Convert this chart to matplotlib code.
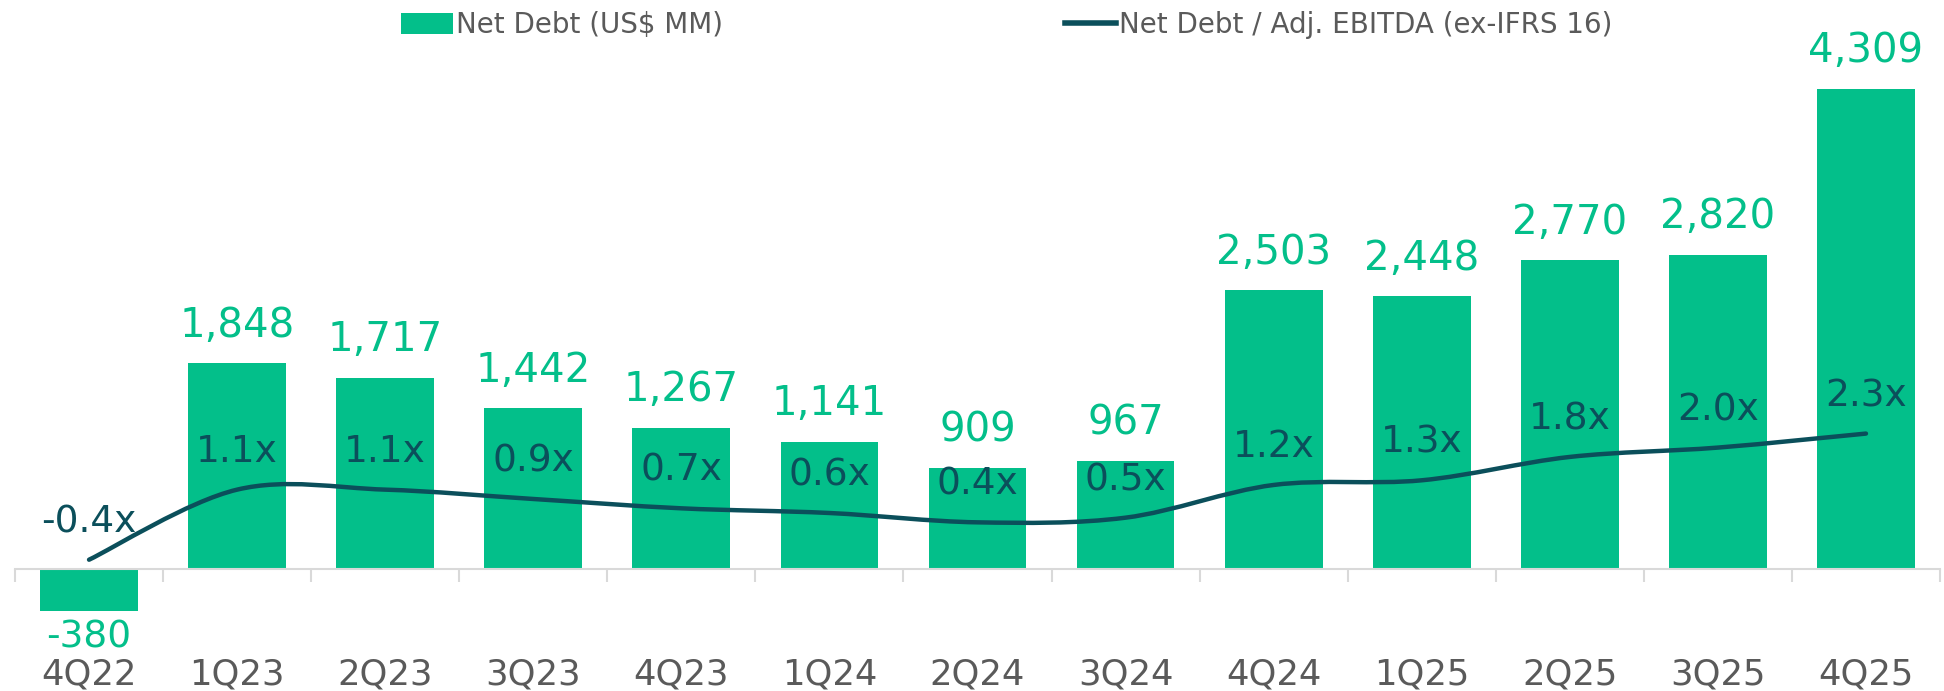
import matplotlib
matplotlib.use("Agg")
import matplotlib.pyplot as plt
from matplotlib.path import Path
from matplotlib.patches import PathPatch, Patch
from matplotlib.lines import Line2D

quarters = ["4Q22", "1Q23", "2Q23", "3Q23", "4Q23", "1Q24", "2Q24", "3Q24",
            "4Q24", "1Q25", "2Q25", "3Q25", "4Q25"]
net_debt = [-380, 1848, 1717, 1442, 1267, 1141, 909, 967, 2503, 2448, 2770, 2820, 4309]
leverage = [-0.4, 1.1, 1.1, 0.9, 0.7, 0.6, 0.4, 0.5, 1.2, 1.3, 1.8, 2.0, 2.3]

GREEN = "#03BF8A"
TEAL = "#0B4F5B"
GRAY = "#5a5a5a"

plt.rcParams['font.family'] = ['DejaVu Sans']

fig = plt.figure(figsize=(19.44, 6.91), dpi=100)
ax = fig.add_axes([15/1944, 0.0, (1940-15)/1944, (691-50)/691])
x = list(range(len(quarters)))

ax.bar(x, net_debt, width=0.66, color=GREEN, zorder=2)
ax.set_xlim(-0.5, len(quarters) - 0.5)
ax.set_ylim(-1095, 4659)

for s in ["top", "right", "left"]:
    ax.spines[s].set_visible(False)
ax.spines["bottom"].set_position(("data", 0))
ax.spines["bottom"].set_color("#d9d9d9")
ax.spines["bottom"].set_linewidth(1.5)
ax.set_yticks([])
ax.set_xticks(x)
ax.set_xticklabels(quarters, fontsize=25.5, color=GRAY)
ax.tick_params(axis="x", which="major", length=0, pad=64)
ax.set_xticks([i - 0.5 for i in range(len(quarters) + 1)], minor=True)
ax.tick_params(axis="x", which="minor", length=9, width=1.5, color="#d9d9d9", direction="out")

for xi, v in zip(x, net_debt):
    off = 27 if v >= 0 else -19
    ax.annotate(f"{v:,}", (xi, v), xytext=(0, off), textcoords="offset points",
                ha="center", va="center", fontsize=29 if v >= 0 else 27,
                color=GREEN, zorder=5)

ax2 = ax.twinx()
ax2.set_ylim(-3.21, 10.51)
ax2.axis("off")

# smooth line via Catmull-Rom -> cubic Bezier
verts = [(x[0], leverage[0])]
codes = [Path.MOVETO]
n = len(x)
for i in range(n - 1):
    p0 = (x[max(i - 1, 0)], leverage[max(i - 1, 0)])
    p1 = (x[i], leverage[i])
    p2 = (x[i + 1], leverage[i + 1])
    p3 = (x[min(i + 2, n - 1)], leverage[min(i + 2, n - 1)])
    c1 = (p1[0] + (p2[0] - p0[0]) / 6, p1[1] + (p2[1] - p0[1]) / 6)
    c2 = (p2[0] - (p3[0] - p1[0]) / 6, p2[1] - (p3[1] - p1[1]) / 6)
    verts += [c1, c2, p2]
    codes += [Path.CURVE4] * 3
ax2.add_patch(PathPatch(Path(verts, codes), facecolor="none", edgecolor=TEAL,
                        linewidth=3.2, capstyle="round", zorder=4))

for xi, v in zip(x, leverage):
    ax2.annotate(f"{v:.1f}x", (xi, v), xytext=(0, 27), textcoords="offset points",
                 ha="center", va="center", fontsize=27, color=TEAL, zorder=6)

handles = [Patch(facecolor=GREEN, edgecolor="none"),
           Line2D([0], [0], color=TEAL, linewidth=4)]
fig.legend(handles, ["Net Debt (US$ MM)", "Net Debt / Adj. EBITDA (ex-IFRS 16)"],
           loc="center", bbox_to_anchor=(0.518, 0.964), ncol=2, frameon=False,
           fontsize=20, labelcolor=GRAY, handlelength=1.85, handleheight=0.8,
           handletextpad=0.12, columnspacing=12.3)

fig.savefig("out.png", dpi=100)
